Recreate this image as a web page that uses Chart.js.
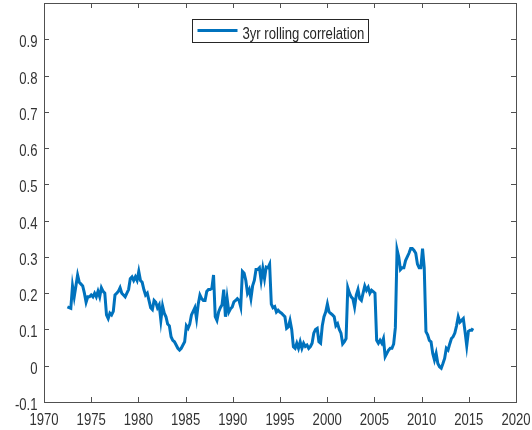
<!DOCTYPE html>
<html>
<head>
<meta charset="utf-8">
<script src="https://cdn.jsdelivr.net/npm/chart.js@4"></script>
<style>
  html, body { margin: 0; padding: 0; background: #fff; }
  #wrap { width: 532px; height: 430px; }
</style>
</head>
<body>
<div id="wrap"><canvas id="chart" width="532" height="430"></canvas></div>
<script>
const seriesLabel = '3yr rolling correlation'
const lineColor = '#0072BD'

// time in decimal years
const years = [
  1972.48, 1972.66, 1972.84, 1973.02, 1973.20, 1973.38, 1973.56, 1973.74, 1973.92, 1974.10,
  1974.28, 1974.46, 1974.64, 1974.82, 1975.00, 1975.18, 1975.36, 1975.54, 1975.72, 1975.90,
  1976.08, 1976.26, 1976.44, 1976.62, 1976.80, 1976.98, 1977.16, 1977.34, 1977.52, 1977.70,
  1977.88, 1978.06, 1978.24, 1978.42, 1978.60, 1978.78, 1978.96, 1979.14, 1979.32, 1979.50,
  1979.68, 1979.86, 1980.04, 1980.22, 1980.40, 1980.58, 1980.76, 1980.94, 1981.12, 1981.30,
  1981.48, 1981.66, 1981.84, 1982.02, 1982.20, 1982.38, 1982.56, 1982.74, 1982.92, 1983.10,
  1983.28, 1983.46, 1983.64, 1983.82, 1984.00, 1984.18, 1984.36, 1984.54, 1984.72, 1984.90,
  1985.08, 1985.26, 1985.44, 1985.62, 1985.80, 1985.98, 1986.16, 1986.34, 1986.52, 1986.70,
  1986.88, 1987.06, 1987.24, 1987.42, 1987.60, 1987.78, 1987.96, 1988.14, 1988.32, 1988.50,
  1988.68, 1988.86, 1989.04, 1989.22, 1989.40, 1989.58, 1989.76, 1989.94, 1990.12, 1990.30,
  1990.48, 1990.66, 1990.84, 1991.02, 1991.20, 1991.38, 1991.56, 1991.74, 1991.92, 1992.10,
  1992.28, 1992.46, 1992.64, 1992.82, 1993.00, 1993.18, 1993.36, 1993.54, 1993.72, 1993.90,
  1994.08, 1994.26, 1994.44, 1994.62, 1994.80, 1994.98, 1995.16, 1995.34, 1995.52, 1995.70,
  1995.88, 1996.06, 1996.24, 1996.42, 1996.60, 1996.78, 1996.96, 1997.14, 1997.32, 1997.50,
  1997.68, 1997.86, 1998.04, 1998.22, 1998.40, 1998.58, 1998.76, 1998.94, 1999.12, 1999.30,
  1999.48, 1999.66, 1999.84, 2000.02, 2000.20, 2000.38, 2000.56, 2000.74, 2000.92, 2001.10,
  2001.28, 2001.46, 2001.64, 2001.82, 2002.00, 2002.18, 2002.36, 2002.54, 2002.72, 2002.90,
  2003.08, 2003.26, 2003.44, 2003.62, 2003.80, 2003.98, 2004.16, 2004.34, 2004.52, 2004.70,
  2004.88, 2005.06, 2005.24, 2005.42, 2005.60, 2005.78, 2005.96, 2006.14, 2006.32, 2006.50,
  2006.68, 2006.86, 2007.04, 2007.22, 2007.40, 2007.58, 2007.76, 2007.94, 2008.12, 2008.30,
  2008.48, 2008.66, 2008.84, 2009.02, 2009.20, 2009.38, 2009.56, 2009.74, 2009.92, 2010.10,
  2010.28, 2010.46, 2010.64, 2010.82, 2011.00, 2011.18, 2011.36, 2011.54, 2011.72, 2011.90,
  2012.08, 2012.26, 2012.44, 2012.62, 2012.80, 2012.98, 2013.16, 2013.34, 2013.52, 2013.70,
  2013.88, 2014.06, 2014.24, 2014.42, 2014.60, 2014.78, 2014.96, 2015.14, 2015.32, 2015.43
]

const correlation = [
  0.162, 0.160, 0.158, 0.220, 0.190, 0.220, 0.250, 0.230, 0.225, 0.220,
  0.200, 0.175, 0.190, 0.190, 0.195, 0.190, 0.200, 0.190, 0.205, 0.190,
  0.215, 0.205, 0.200, 0.140, 0.130, 0.145, 0.140, 0.150, 0.195, 0.200,
  0.205, 0.215, 0.200, 0.195, 0.190, 0.200, 0.210, 0.240, 0.245, 0.235,
  0.245, 0.235, 0.260, 0.235, 0.230, 0.210, 0.195, 0.200, 0.180, 0.160,
  0.155, 0.180, 0.175, 0.160, 0.168, 0.125, 0.165, 0.145, 0.135, 0.115,
  0.110, 0.080, 0.070, 0.066, 0.057, 0.048, 0.043, 0.048, 0.057, 0.066,
  0.110, 0.103, 0.115, 0.140, 0.150, 0.160, 0.130, 0.170, 0.195, 0.185,
  0.180, 0.180, 0.205, 0.210, 0.210, 0.213, 0.250, 0.135, 0.125, 0.148,
  0.160, 0.168, 0.210, 0.135, 0.185, 0.148, 0.157, 0.162, 0.176, 0.180,
  0.185, 0.180, 0.162, 0.260, 0.255, 0.235, 0.200, 0.210, 0.185, 0.220,
  0.235, 0.265, 0.265, 0.270, 0.235, 0.268, 0.240, 0.272, 0.270, 0.280,
  0.170, 0.160, 0.163, 0.148, 0.153, 0.148, 0.145, 0.140, 0.135, 0.103,
  0.107, 0.125, 0.100, 0.052, 0.048, 0.062, 0.048, 0.066, 0.048, 0.062,
  0.053, 0.057, 0.048, 0.053, 0.062, 0.090, 0.100, 0.103, 0.066, 0.062,
  0.110, 0.135, 0.148, 0.170, 0.148, 0.144, 0.140, 0.135, 0.110, 0.116,
  0.100, 0.090, 0.060, 0.066, 0.075, 0.215, 0.200, 0.190, 0.185, 0.162,
  0.195, 0.210, 0.185, 0.180, 0.200, 0.220, 0.208, 0.216, 0.200, 0.208,
  0.204, 0.200, 0.070, 0.062, 0.070, 0.062, 0.075, 0.025, 0.034, 0.043,
  0.048, 0.048, 0.060, 0.105, 0.320, 0.300, 0.265, 0.270, 0.270, 0.290,
  0.300, 0.310, 0.323, 0.323, 0.318, 0.310, 0.280, 0.270, 0.270, 0.323,
  0.270, 0.094, 0.085, 0.070, 0.066, 0.034, 0.016, 0.034, 0.006, -0.003,
  -0.007, 0.006, 0.020, 0.048, 0.043, 0.060, 0.075, 0.080, 0.090, 0.110,
  0.135, 0.120, 0.125, 0.130, 0.094, 0.055, 0.095, 0.098, 0.098, 0.103
]

const xMin = 1970, xMax = 2020, xStep = 5
const yMin = -0.1, yMax = 1.0, yStep = 0.1

const FONT = '16px "Liberation Sans", Arial, sans-serif'
const SQUEEZE = 0.82   // the original figure's text is horizontally condensed
const AXIS_COLOR = '#505050'
const TEXT_COLOR = '#333'

const narrowText = (ctx, text, x, y, align) => {
    ctx.save()
    ctx.translate(x, y)
    ctx.scale(SQUEEZE, 1)
    ctx.textAlign = align
    ctx.textBaseline = 'alphabetic'
    ctx.fillText(text, 0, 0)
    ctx.restore()
}

// MATLAB style box with inward ticks on all four sides, plus tick labels
const boxAxes = {
    id: 'boxAxes',
    afterDraw(chart) {
        const { ctx, chartArea: a, scales } = chart
        const tl = 5
        ctx.save()
        ctx.strokeStyle = AXIS_COLOR
        ctx.lineWidth = 1
        ctx.beginPath()
        scales.x.ticks.forEach(t => {
            const px = Math.round(scales.x.getPixelForValue(t.value)) + 0.5
            ctx.moveTo(px, a.bottom); ctx.lineTo(px, a.bottom - tl)
            ctx.moveTo(px, a.top); ctx.lineTo(px, a.top + tl)
        })
        scales.y.ticks.forEach(t => {
            const py = Math.round(scales.y.getPixelForValue(t.value)) + 0.5
            ctx.moveTo(a.left, py); ctx.lineTo(a.left + tl, py)
            ctx.moveTo(a.right, py); ctx.lineTo(a.right - tl, py)
        })
        ctx.stroke()
        ctx.strokeRect(Math.round(a.left) + 0.5, Math.round(a.top) + 0.5,
            Math.round(a.right - a.left), Math.round(a.bottom - a.top))

        ctx.font = FONT
        ctx.fillStyle = TEXT_COLOR
        scales.x.ticks.forEach(t => {
            narrowText(ctx, String(t.value), scales.x.getPixelForValue(t.value), a.bottom + 23, 'center')
        })
        scales.y.ticks.forEach(t => {
            const v = Math.round(t.value * 10) / 10
            if (v > 0.95) return
            narrowText(ctx, String(v), a.left - 6.5, scales.y.getPixelForValue(t.value) + 8, 'right')
        })
        ctx.restore()
    }
}

// boxed legend like the MATLAB one
const boxLegend = {
    id: 'boxLegend',
    afterDraw(chart) {
        const { ctx, chartArea: a } = chart
        const ds = chart.data.datasets[0]
        ctx.save()
        ctx.font = FONT
        const tw = ctx.measureText(ds.label).width * SQUEEZE
        const x = Math.round(a.left + 148) + 0.5
        const y = Math.round(a.top + 16) + 0.5
        const w = Math.round(5 + 40 + 5 + tw + 4)
        const h = 23
        ctx.fillStyle = '#fff'
        ctx.fillRect(x, y, w, h)
        ctx.strokeStyle = '#262626'
        ctx.lineWidth = 1
        ctx.strokeRect(x, y, w, h)
        ctx.strokeStyle = ds.borderColor
        ctx.lineWidth = 3
        ctx.beginPath()
        ctx.moveTo(x + 5, y + 11)
        ctx.lineTo(x + 45, y + 11)
        ctx.stroke()
        ctx.fillStyle = '#262626'
        narrowText(ctx, ds.label, x + 50, y + 19.5, 'left')
        ctx.restore()
    }
}

const points = years.map((yr, i) => ({ x: yr, y: correlation[i] }))

new Chart(document.getElementById('chart'), {
    type: 'line',
    data: {
        datasets: [{
            label: seriesLabel,
            data: points,
            borderColor: lineColor,
            borderWidth: 3,
            pointRadius: 0,
            tension: 0,
            fill: false
        }]
    },
    options: {
        responsive: false,
        animation: false,
        layout: { padding: { top: 3, right: 16, left: 0, bottom: 0 } },
        scales: {
            x: {
                type: 'linear',
                min: xMin,
                max: xMax,
                grid: { display: false },
                border: { display: false },
                ticks: { stepSize: xStep, display: false },
                afterFit: s => { s.height = 28; s.paddingLeft = 0; s.paddingRight = 0 }
            },
            y: {
                min: yMin,
                max: yMax,
                grid: { display: false },
                border: { display: false },
                ticks: { stepSize: yStep, display: false },
                afterFit: s => { s.width = 44; s.paddingTop = 0; s.paddingBottom = 0 }
            }
        },
        plugins: {
            legend: { display: false },
            tooltip: { enabled: false }
        }
    },
    plugins: [boxAxes, boxLegend]
})
</script>
</body>
</html>
